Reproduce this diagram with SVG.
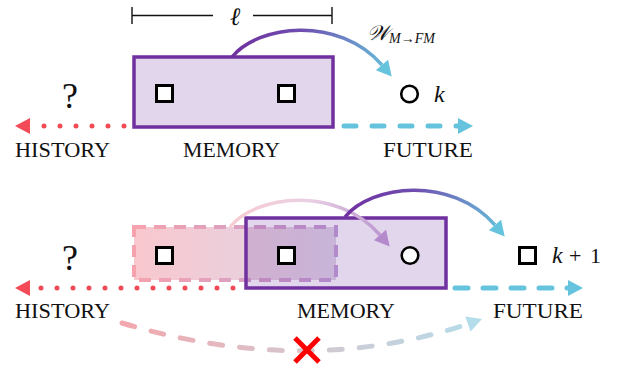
<svg xmlns="http://www.w3.org/2000/svg" width="622" height="372" viewBox="0 0 622 372">
<style>
.lbl{font-family:"Liberation Serif","DejaVu Serif",serif;font-size:22px;fill:#111}
.math{font-family:"Liberation Serif","DejaVu Serif",serif;font-style:italic;fill:#111}
.q{font-family:"Liberation Serif","DejaVu Serif",serif;font-size:36px;fill:#111;text-anchor:middle}
.mem{fill:#7030A0;fill-opacity:0.2;stroke:#7030A0;stroke-width:3.5}
.sq{fill:#fff;stroke:#000;stroke-width:3}
.hist{fill:none;stroke:#F24B57;stroke-width:5;stroke-linecap:round;stroke-dasharray:0 16}
.fut{fill:none;stroke:#66C3DD;stroke-width:5;stroke-linecap:round;stroke-dasharray:12 16}
.dim{stroke:#111;stroke-width:1.4;fill:none}
</style>
<defs>
<linearGradient id="gTop" gradientUnits="userSpaceOnUse" x1="232" y1="0" x2="392" y2="0">
<stop offset="0" stop-color="#7030A0"/><stop offset="0.45" stop-color="#6F4FB0"/><stop offset="1" stop-color="#66C3DD"/>
</linearGradient>
<linearGradient id="gBot" gradientUnits="userSpaceOnUse" x1="345" y1="0" x2="505" y2="0">
<stop offset="0" stop-color="#7030A0"/><stop offset="0.45" stop-color="#6F4FB0"/><stop offset="1" stop-color="#66C3DD"/>
</linearGradient>
<linearGradient id="gFade" gradientUnits="userSpaceOnUse" x1="230" y1="0" x2="390" y2="0">
<stop offset="0" stop-color="#F8CCD3"/><stop offset="0.5" stop-color="#E9D0E2"/><stop offset="1" stop-color="#B891CF"/>
</linearGradient>
<linearGradient id="gPinkFill" gradientUnits="userSpaceOnUse" x1="134" y1="0" x2="336" y2="0">
<stop offset="0" stop-color="#F9C7CE"/><stop offset="1" stop-color="#DED6E7"/>
</linearGradient>
<linearGradient id="gPinkStroke" gradientUnits="userSpaceOnUse" x1="134" y1="0" x2="336" y2="0">
<stop offset="0" stop-color="#F5A2AD"/><stop offset="1" stop-color="#C39FD6"/>
</linearGradient>
<linearGradient id="gLong" gradientUnits="userSpaceOnUse" x1="122" y1="0" x2="482" y2="0">
<stop offset="0" stop-color="#F2A8AE"/><stop offset="0.5" stop-color="#D6C6CE"/><stop offset="1" stop-color="#B3DDEB"/>
</linearGradient>
</defs>

<g id="top-row">
<g id="length-dim">
<path class="dim" d="M132 7V24M332 7V24M132 15.5H213M253 15.5H332"/>
<text class="math" x="235" y="25" font-size="25" text-anchor="middle">ℓ</text>
</g>
<g id="memory-top">
<rect class="mem" x="134" y="57" width="199" height="70"/>
<rect class="sq" x="156.5" y="85.5" width="16" height="16"/>
<rect class="sq" x="278.5" y="85.5" width="16" height="16"/>
</g>
<g id="future-k">
<circle cx="409.5" cy="94" r="8.3" fill="#fff" stroke="#000" stroke-width="2.6"/>
<text class="math" x="434" y="102" font-size="24">k</text>
</g>
<text class="q" x="70" y="108">?</text>
<g id="label-w">
<text class="math" x="367" y="40" font-size="21">𝒲<tspan font-size="14" dy="3">M→FM</tspan></text>
</g>
<text class="lbl" x="15" y="157" textLength="95" lengthAdjust="spacingAndGlyphs">HISTORY</text>
<text class="lbl" x="183" y="157" textLength="97" lengthAdjust="spacingAndGlyphs">MEMORY</text>
<text class="lbl" x="383" y="157" textLength="90" lengthAdjust="spacingAndGlyphs">FUTURE</text>
</g>

<g id="bottom-row">
<g id="memory-old">
<rect x="134" y="227" width="202" height="53" fill="url(#gPinkFill)" stroke="url(#gPinkStroke)" stroke-width="4" stroke-dasharray="12 8"/>
</g>
<g id="memory-bottom">
<rect class="mem" x="246" y="218" width="200" height="70"/>
<rect class="sq" x="156.5" y="247.5" width="16" height="16"/>
<rect class="sq" x="278.5" y="247.5" width="16" height="16"/>
<circle cx="410" cy="255.5" r="8.3" fill="#fff" stroke="#000" stroke-width="2.6"/>
</g>
<g id="future-k1">
<rect class="sq" x="519.5" y="247.5" width="16" height="16"/>
<text class="math" x="552" y="263" font-size="24">k</text>
<text class="lbl" y="263" font-size="24"><tspan x="569">+</tspan><tspan x="590">1</tspan></text>
</g>
<text class="q" x="70" y="270">?</text>
<text class="lbl" x="15" y="318" textLength="95" lengthAdjust="spacingAndGlyphs">HISTORY</text>
<text class="lbl" x="297" y="318" textLength="98" lengthAdjust="spacingAndGlyphs">MEMORY</text>
<text class="lbl" x="493" y="318" textLength="90" lengthAdjust="spacingAndGlyphs">FUTURE</text>
</g>

<g id="connectors">
<path class="hist" d="M124 126H38"/>
<polygon points="15,126 30,118 30,134" fill="#F24B57"/>
<path class="fut" d="M344 126H460"/>
<polygon points="473,126 458,118 458,134" fill="#66C3DD"/>
<path d="M232 57C258 25 338 15 382 65" fill="none" stroke="url(#gTop)" stroke-width="3.5"/>
<polygon points="391.7,76.4 375.9,70.2 388.1,59.8" fill="#66C3DD"/>

<path class="hist" d="M233 288H38"/>
<polygon points="15,288 30,280 30,296" fill="#F24B57"/>
<path class="fut" d="M455 288H568" style="stroke-dasharray:13 15"/>
<polygon points="583,288 568,280 568,296" fill="#66C3DD"/>
<path d="M230 227C256 195 336 185 380 235" fill="none" stroke="url(#gFade)" stroke-width="3.5"/>
<polygon points="389.7,246.4 373.9,240.2 386.1,229.8" fill="#B48ACC"/>
<path d="M345 217C371 185 451 175 495 225" fill="none" stroke="url(#gBot)" stroke-width="3.5"/>
<polygon points="504.7,236.4 488.9,230.2 501.1,219.8" fill="#66C3DD"/>

<path d="M122 323Q305 378 468 324" fill="none" stroke="url(#gLong)" stroke-width="5" stroke-linecap="round" stroke-dasharray="13 17"/>
<polygon points="482,319 470.6,331.6 465.2,316.6" fill="#B3DDEB"/>
<path d="M295 338L319 362M319 338L295 362" stroke="#FF0000" stroke-width="5"/>
</g>
</svg>
